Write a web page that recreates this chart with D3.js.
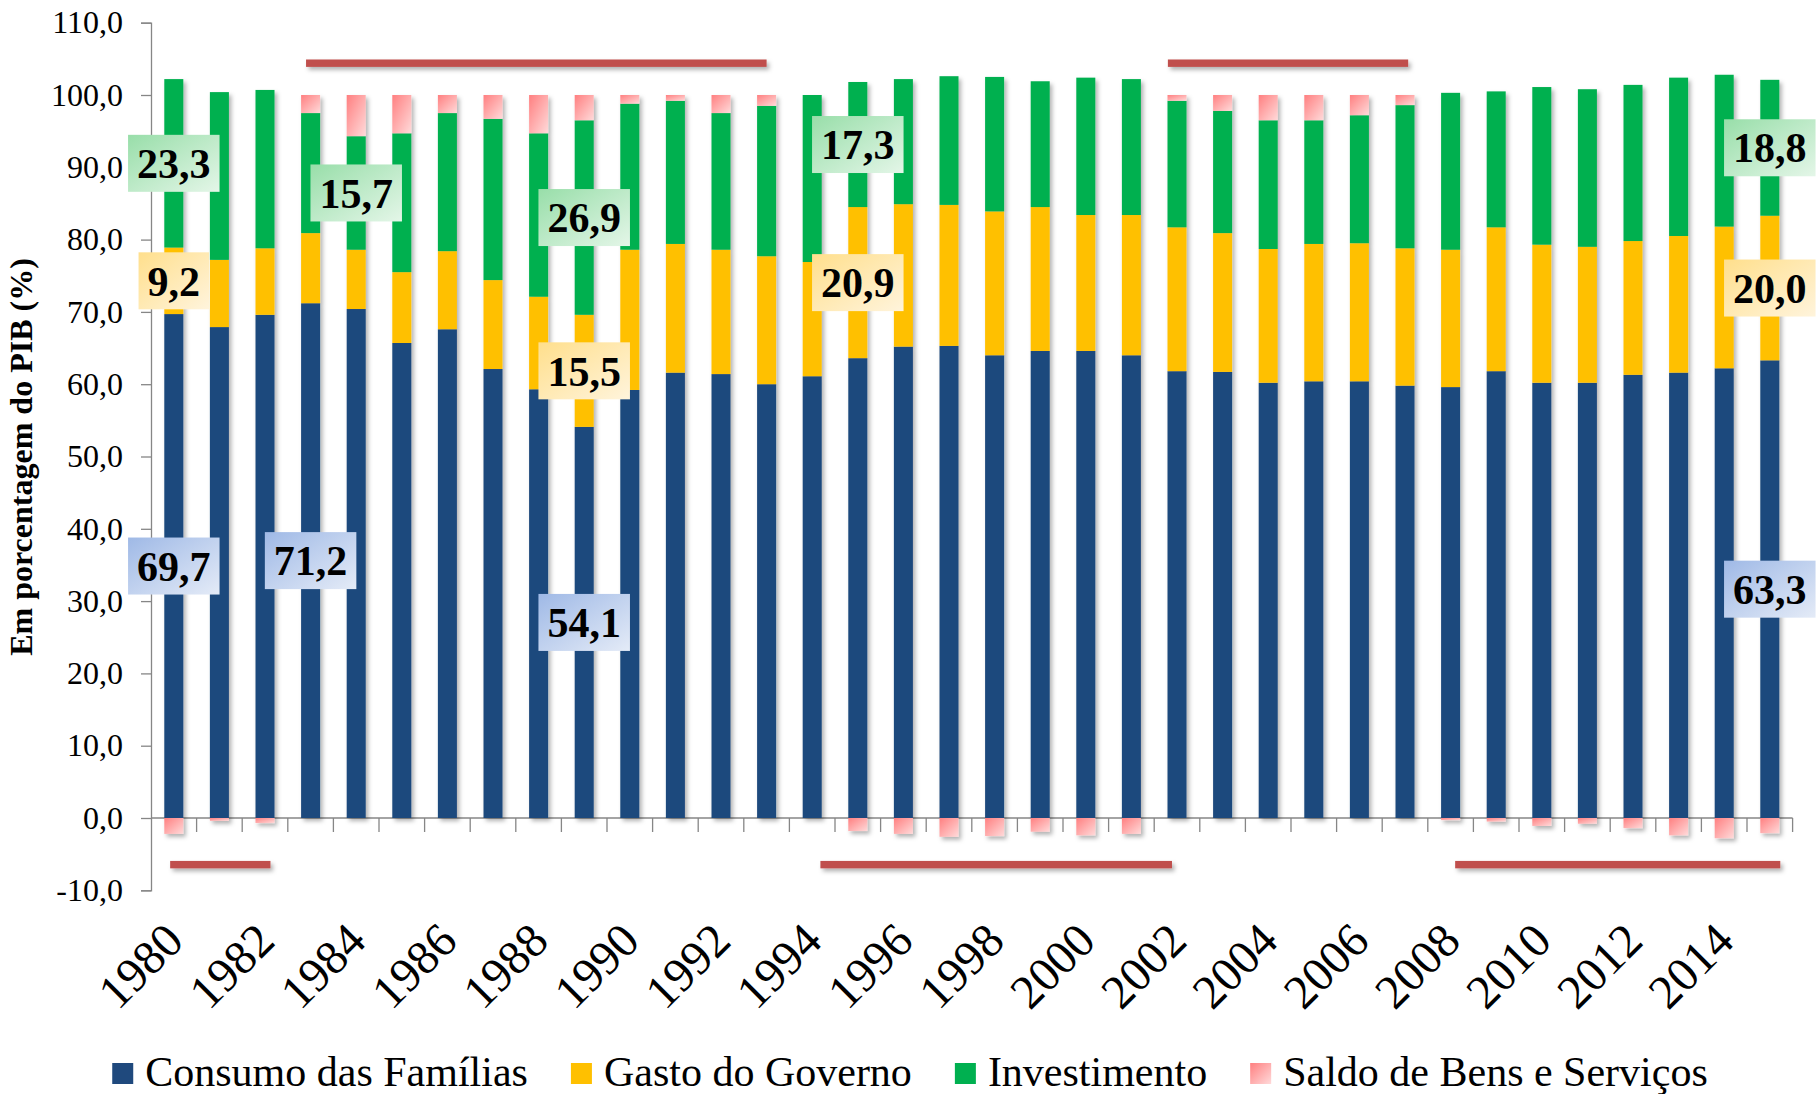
<!DOCTYPE html>
<html>
<head>
<meta charset="utf-8">
<script src="https://cdn.jsdelivr.net/npm/d3@7"></script>
<style>
  body { margin: 0; background: #fff; }
  svg, svg text { font-family: "Liberation Serif", "Times New Roman", serif; }
</style>
</head>
<body>
<div id="chart"></div>
<script>
const years = [1980, 1981, 1982, 1983, 1984, 1985, 1986, 1987, 1988, 1989,
  1990, 1991, 1992, 1993, 1994, 1995, 1996, 1997, 1998, 1999,
  2000, 2001, 2002, 2003, 2004, 2005, 2006, 2007, 2008, 2009,
  2010, 2011, 2012, 2013, 2014, 2015];

const consumo = [69.7, 67.9, 69.6, 71.2, 70.4, 65.7, 67.6, 62.1, 59.3, 54.1,
  59.2, 61.6, 61.4, 60.0, 61.1, 63.6, 65.2, 65.3, 64.0, 64.6,
  64.6, 64.0, 61.8, 61.7, 60.2, 60.4, 60.4, 59.8, 59.6, 61.8,
  60.2, 60.2, 61.3, 61.6, 62.2, 63.3];
const gasto = [9.2, 9.3, 9.2, 9.7, 8.2, 9.8, 10.8, 12.3, 12.8, 15.5,
  19.4, 17.8, 17.2, 17.7, 15.8, 20.9, 19.7, 19.5, 19.9, 19.9,
  18.8, 19.4, 19.9, 19.2, 18.5, 19.0, 19.1, 19.0, 19.0, 19.9,
  19.1, 18.8, 18.5, 18.9, 19.6, 20.0];
const investimento = [23.3, 23.2, 21.9, 16.6, 15.7, 19.2, 19.1, 22.3, 22.6, 26.9,
  20.2, 19.8, 18.9, 20.8, 23.1, 17.3, 17.3, 17.8, 18.6, 17.4,
  19.0, 18.8, 17.5, 16.9, 17.8, 17.1, 17.7, 19.8, 21.7, 18.8,
  21.8, 21.8, 21.6, 21.9, 21.0, 18.8];
const saldo = [-2.2, -0.4, -0.7, 2.5, 5.7, 5.3, 2.5, 3.3, 5.3, 3.5,
  1.2, 0.8, 2.5, 1.5, 0.0, -1.8, -2.2, -2.6, -2.5, -1.9,
  -2.4, -2.2, 0.8, 2.2, 3.5, 3.5, 2.8, 1.4, -0.3, -0.5,
  -1.1, -0.8, -1.4, -2.4, -2.8, -2.1];

const seriesKeys = ["consumo", "gasto", "investimento", "saldo"];
const seriesNames = ["Consumo das Famílias", "Gasto do Governo", "Investimento", "Saldo de Bens e Serviços"];
const yTicks = [-10, 0, 10, 20, 30, 40, 50, 60, 70, 80, 90, 100, 110];
const yearLabels = [1980, 1982, 1984, 1986, 1988, 1990, 1992, 1994, 1996, 1998,
  2000, 2002, 2004, 2006, 2008, 2010, 2012, 2014];

// highlighted values (year, series)
const labelYears = [1980, 1980, 1980, 1983, 1984, 1989, 1989, 1989, 1995, 1995, 2015, 2015, 2015];
const labelKeys = ["consumo", "gasto", "investimento", "consumo", "investimento",
  "consumo", "gasto", "investimento", "gasto", "investimento", "consumo", "gasto", "investimento"];

// periods marked by red bars (fractional years), above or below the columns
const periodFrom = [1982.9, 2001.8, 1979.92, 1994.18, 2008.1];
const periodTo = [1993.0, 2007.07, 1982.12, 2001.89, 2015.23];
const periodLevel = [104.4, 104.4, -6.45, -6.45, -6.45];

const width = 1816, height = 1094;
const fmt = v => d3.format(".1f")(v).replace(".", ",").replace("−", "-");

const rows = years.map((y, i) => ({
  year: y, consumo: consumo[i], gasto: gasto[i], investimento: investimento[i], saldo: saldo[i]
}));

const svg = d3.select("#chart").append("svg")
  .attr("width", width).attr("height", height);

const defs = svg.append("defs");
const shadow = defs.append("filter").attr("id", "shadow")
  .attr("x", "-30%").attr("y", "-10%").attr("width", "180%").attr("height", "130%");
shadow.append("feDropShadow").attr("dx", 2.5).attr("dy", 3).attr("stdDeviation", 2)
  .attr("flood-color", "#000").attr("flood-opacity", 0.3);

function grad(id, c0, c1) {
  const g = defs.append("linearGradient").attr("id", id)
    .attr("x1", "0%").attr("y1", "0%").attr("x2", "100%").attr("y2", "100%");
  g.append("stop").attr("offset", "0%").attr("stop-color", c0);
  g.append("stop").attr("offset", "100%").attr("stop-color", c1);
}
grad("g-saldo", "#ff7f80", "#ffdada");
grad("lb-consumo", "#9fb9e6", "#e4ebf7");
grad("lb-gasto", "#ffdf8c", "#fff4dc");
grad("lb-investimento", "#98dea9", "#e4f6e8");

const colors = {
  consumo: "#1f497d",
  gasto: "#ffc000",
  investimento: "#00b050",
  saldo: "url(#g-saldo)"
};

const x = d3.scaleBand().domain(years).range([151, 1792.6])
  .paddingInner(0.583).paddingOuter(0.2915);
const y = d3.scaleLinear().domain([-10, 110]).range([890.3, 22.7]);
const xPos = d3.scaleLinear().domain([1980, 2015])
  .range([x(1980) + x.bandwidth() / 2, x(2015) + x.bandwidth() / 2]);

// axes
const yAxis = svg.append("g").attr("transform", `translate(${x.range()[0]},0)`)
  .call(d3.axisLeft(y).tickValues(yTicks).tickFormat(fmt).tickSize(10).tickPadding(18));
yAxis.attr("font-family", null).attr("font-size", null);
yAxis.select(".domain").attr("stroke", "#868686").attr("stroke-width", 1.3);
yAxis.selectAll(".tick line").attr("stroke", "#868686").attr("stroke-width", 1.3);
yAxis.selectAll(".tick text").style("font-size", "32px").attr("fill", "#000");

const xAxisG = svg.append("g").attr("transform", `translate(0,${y(0)})`);
xAxisG.append("line").attr("x1", x.range()[0]).attr("x2", x.range()[1])
  .attr("stroke", "#868686").attr("stroke-width", 1.3);
const boundaries = years.map(d => x(d) - x.step() * x.paddingInner() / 2).concat([x.range()[1]]);
xAxisG.selectAll("line.tk").data(boundaries.slice(1)).join("line").attr("class", "tk")
  .attr("x1", d => d).attr("x2", d => d).attr("y1", 0).attr("y2", 14)
  .attr("stroke", "#868686").attr("stroke-width", 1.3);

// year labels
svg.append("g").selectAll("text").data(yearLabels).join("text")
  .attr("transform", d => `translate(${x(d) + x.bandwidth() / 2 + 12},${y(-10) + 53}) rotate(-45)`)
  .attr("text-anchor", "end")
  .style("font-size", "48px")
  .text(d => d);

// bars
const stack = d3.stack().keys(seriesKeys).offset(d3.stackOffsetDiverging);
const stacked = stack(rows);

const barsG = svg.append("g").attr("filter", "url(#shadow)");
barsG.selectAll("g").data(stacked).join("g")
  .attr("fill", d => colors[d.key])
  .selectAll("rect").data(d => d).join("rect")
  .attr("x", d => x(d.data.year))
  .attr("width", x.bandwidth())
  .attr("y", d => y(Math.max(d[0], d[1])))
  .attr("height", d => Math.abs(y(d[0]) - y(d[1])));

// period bars
const periods = periodFrom.map((f, i) => ({ from: f, to: periodTo[i], level: periodLevel[i] }));
svg.append("g").attr("filter", "url(#shadow)").selectAll("rect").data(periods).join("rect")
  .attr("x", d => xPos(d.from))
  .attr("width", d => xPos(d.to) - xPos(d.from))
  .attr("y", d => y(d.level) - 3.7)
  .attr("height", 7.4)
  .attr("fill", "#c0504d");

// value labels
const labelsG = svg.append("g");
labelYears.forEach((yr, i) => {
  const key = labelKeys[i];
  const layer = stacked.find(s => s.key === key);
  const d = layer[years.indexOf(yr)];
  const cx = x(yr) + x.bandwidth() / 2;
  const cy = y((d[0] + d[1]) / 2);
  const g = labelsG.append("g");
  const t = g.append("text")
    .attr("x", cx).attr("y", cy).attr("dy", "0.35em")
    .attr("text-anchor", "middle")
    .style("font-size", "42px").style("font-weight", "bold")
    .text(fmt(rows[years.indexOf(yr)][key]));
  const w = t.node().getComputedTextLength() + 18;
  g.insert("rect", "text")
    .attr("x", cx - w / 2).attr("y", cy - 28.5)
    .attr("width", w).attr("height", 57)
    .attr("fill", `url(#lb-${key})`);
});

// y title
svg.append("text")
  .attr("transform", "translate(32,457) rotate(-90)")
  .attr("text-anchor", "middle")
  .style("font-size", "32px").style("font-weight", "bold")
  .text("Em porcentagem do PIB (%)");

// legend
const legend = svg.append("g");
let lx = 0;
seriesKeys.forEach((k, i) => {
  const item = legend.append("g").attr("transform", `translate(${lx},0)`);
  item.append("rect").attr("x", 0).attr("y", -23).attr("width", 21).attr("height", 21)
    .attr("fill", colors[k]);
  const t = item.append("text").attr("x", 33).attr("y", 0).style("font-size", "42px")
    .text(seriesNames[i]);
  lx += 33 + t.node().getComputedTextLength() + 43;
});
const legendW = lx - 43;
legend.attr("transform", `translate(${910 - legendW / 2},1086)`);
</script>
</body>
</html>
